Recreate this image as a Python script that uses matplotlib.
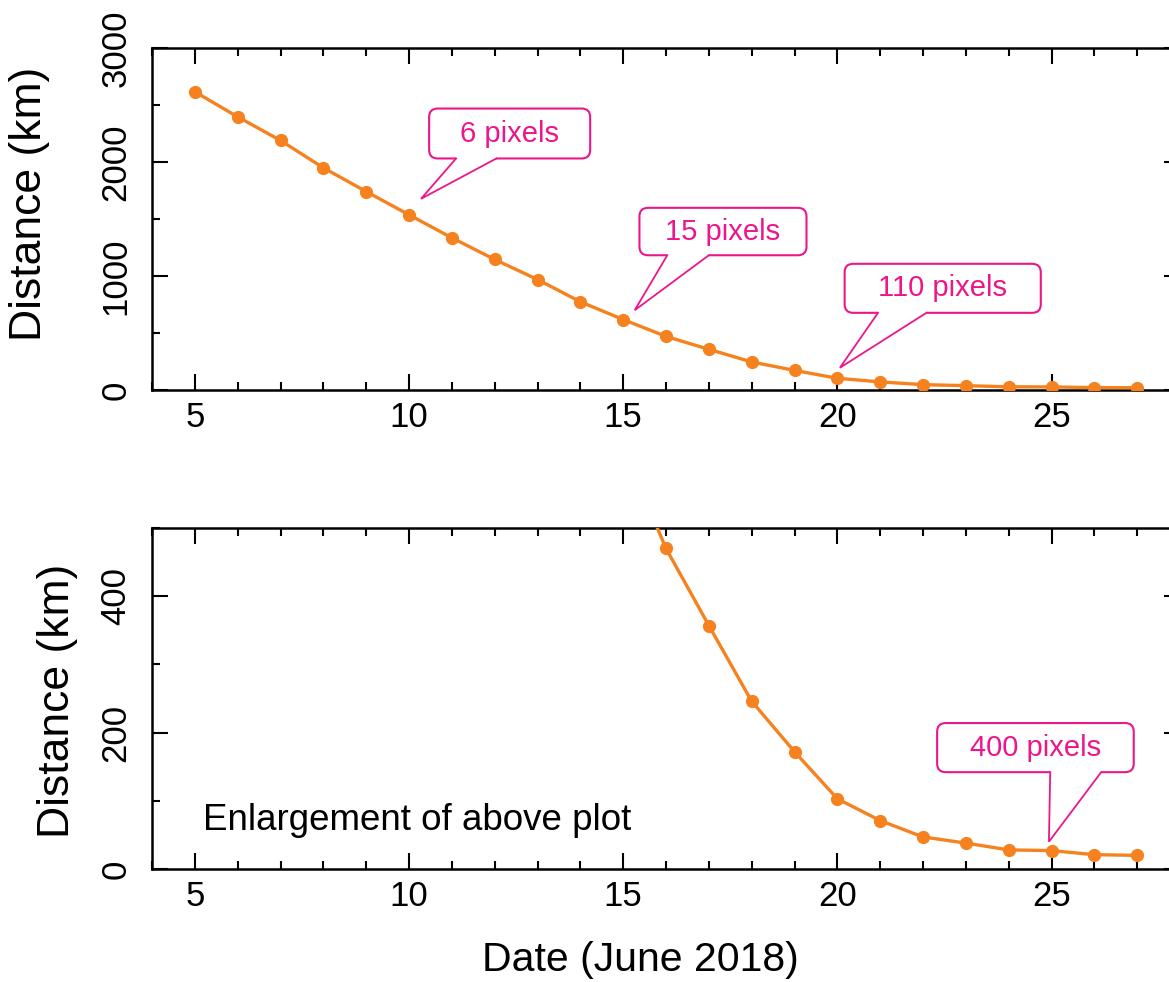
import matplotlib
matplotlib.use("Agg")
import matplotlib.pyplot as plt
from matplotlib.patches import FancyBboxPatch, Polygon
from matplotlib.ticker import MultipleLocator

# date in June 2018 and distance in km
days = [5, 6, 7, 8, 9, 10, 11, 12, 13, 14, 15, 16, 17, 18, 19, 20, 21, 22, 23, 24, 25, 26, 27]
distance = [2616, 2396, 2189, 1949, 1741, 1537, 1335, 1145, 969, 774, 618, 470,
            357, 246, 172, 103, 71, 47, 38, 28, 27, 21, 20]

# callouts: text, box (x0, x1, y0, y1), tail base (xa, xb), tip (x, y)
top_notes = [
    ("6 pixels", (10.47, 14.23, 2031, 2469), (11.10, 12.04), (10.28, 1677)),
    ("15 pixels", (15.38, 19.28, 1182, 1598), (16.03, 17.00), (15.27, 700)),
    ("110 pixels", (20.17, 24.75, 677, 1107), (20.95, 22.08), (20.06, 195)),
]
bottom_notes = [
    ("400 pixels", (22.33, 26.92, 142, 214), (24.97, 26.16), (24.94, 40)),
]

ORANGE = "#f5821f"
PINK = "#ec168a"

plt.rcParams["font.family"] = ["Liberation Sans", "DejaVu Sans"]

W, H = 1169, 982
fig = plt.figure(figsize=(W / 100, H / 100), dpi=100)
ax1 = fig.add_axes([152 / W, 1 - 390 / H, 1028 / W, 342 / H])
ax2 = fig.add_axes([152 / W, 1 - 869 / H, 1028 / W, 341 / H])


def style_axes(ax, ymax, ymajor, yminor):
    ax.set_xlim(4, 28)
    ax.set_ylim(0, ymax)
    ax.xaxis.set_major_locator(MultipleLocator(5))
    ax.xaxis.set_minor_locator(MultipleLocator(1))
    ax.yaxis.set_major_locator(MultipleLocator(ymajor))
    ax.yaxis.set_minor_locator(MultipleLocator(yminor))
    ax.tick_params(which="both", direction="in", top=True, right=True, width=1.5, color="black")
    ax.tick_params(which="major", length=11.5)
    ax.tick_params(which="minor", length=6)
    ax.tick_params(axis="x", labelsize=25, pad=8)
    ax.tick_params(axis="y", labelsize=25, pad=14, labelrotation=90)
    for lab in ax.get_yticklabels():
        lab.set_va("center")
    for sp in ax.spines.values():
        sp.set_linewidth(1.8)
    ax.plot(days, distance, color=ORANGE, lw=2.4, marker="o", ms=8.5, zorder=3)


def callout(ax, text, box, base, tip):
    x0, x1, y0, y1 = box
    # pixel size of one data unit, to keep the corners round
    p0 = ax.transData.transform((0, 0))
    px = ax.transData.transform((1, 1)) - p0
    aspect = px[0] / px[1]
    patch = FancyBboxPatch((x0, y0), x1 - x0, y1 - y0,
                           boxstyle="round,pad=0,rounding_size=0.2",
                           mutation_aspect=aspect, fc="white", ec=PINK, lw=1.5, zorder=5)
    ax.add_patch(patch)
    eps = 3 / px[1]
    ax.add_patch(Polygon([(base[0], y0 + eps), (base[0], y0), tip, (base[1], y0), (base[1], y0 + eps)],
                         closed=True, fc="white", ec="none", zorder=6))
    ax.plot([base[0], tip[0], base[1]], [y0, tip[1], y0], color=PINK, lw=1.3, zorder=7,
            solid_joinstyle="miter")
    ax.text((x0 + x1) / 2, (y0 + y1) / 2, text, color=PINK, fontsize=21,
            ha="center", va="center", zorder=8)


style_axes(ax1, 3000, 1000, 500)
style_axes(ax2, 500, 200, 100)

for note in top_notes:
    callout(ax1, *note)
for note in bottom_notes:
    callout(ax2, *note)

ax2.text(5.19, 56.5, "Enlargement of above plot", fontsize=26.5, ha="left", va="baseline")

ax1.set_ylabel("Distance (km)", fontsize=32)
ax1.yaxis.set_label_coords(-0.099, 0.545)
ax2.set_ylabel("Distance (km)", fontsize=32)
ax2.yaxis.set_label_coords(-0.072, 0.493)
ax2.set_xlabel("Date (June 2018)", fontsize=29.5)
ax2.xaxis.set_label_coords(0.475, -0.21)
ax2.xaxis.label.set_va("top")

fig.savefig("out.png", dpi=100)
